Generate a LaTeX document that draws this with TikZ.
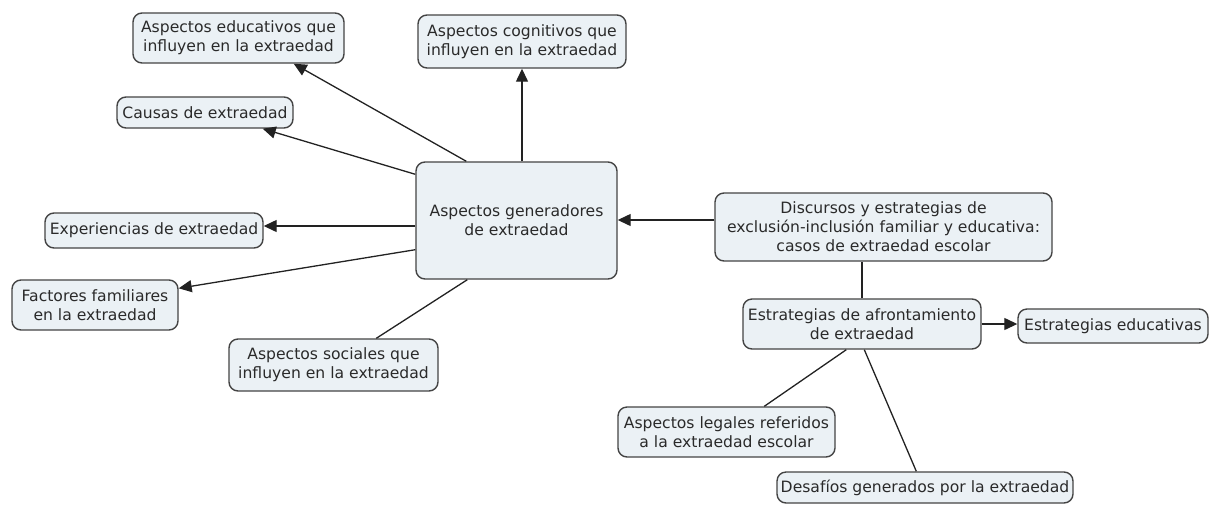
\documentclass[tikz,border=0pt]{standalone}
\usepackage{fontspec}
\setmainfont{DejaVu Sans}
\usetikzlibrary{arrows.meta,calc}
\definecolor{boxfill}{HTML}{EBF1F5}
\definecolor{boxline}{HTML}{444444}
\definecolor{linkcol}{HTML}{222222}
\definecolor{txtcol}{HTML}{2A2A2A}
\tikzset{
  concept/.style={draw=boxline, line width=1.4pt, fill=boxfill, rounded corners=9pt,
    inner sep=0pt, align=center, text=txtcol,
    font=\fontsize{15.6}{19}\selectfont},
  link/.style={draw=linkcol, line width=1.3pt},
  arrowlink/.style={link, -{Triangle[length=13pt,width=12pt]}}
}
\begin{document}
\begin{tikzpicture}[x=1pt,y=-1pt]
\useasboundingbox (0,0) rectangle (1209,504);
\node[concept, minimum width=211pt, minimum height=50pt] (edu) at (238.5,38) {Aspectos educativos que\\influyen en la extraedad};
\node[concept, minimum width=208pt, minimum height=53pt] (cog) at (522,41.5) {Aspectos cognitivos que\\influyen en la extraedad};
\node[concept, minimum width=176pt, minimum height=31pt] (cau) at (205,112.5) {Causas de extraedad};
\node[concept, minimum width=201pt, minimum height=117pt] (c) at (516.5,220.5) {Aspectos generadores\\de extraedad};
\node[concept, minimum width=218pt, minimum height=35pt] (exp) at (154,230.5) {Experiencias de extraedad};
\node[concept, minimum width=166pt, minimum height=50pt] (fam) at (95,305) {Factores familiares\\en la extraedad};
\node[concept, minimum width=209pt, minimum height=52pt] (soc) at (333.5,365) {Aspectos sociales que\\influyen en la extraedad};
\node[concept, minimum width=337pt, minimum height=68pt] (dis) at (883.5,227) {Discursos y estrategias de\\exclusión-inclusión familiar y educativa:\\casos de extraedad escolar};
\node[concept, minimum width=238pt, minimum height=50pt] (afr) at (862,324) {Estrategias de afrontamiento\\de extraedad};
\node[concept, minimum width=190pt, minimum height=34pt] (edus) at (1113,326) {Estrategias educativas};
\node[concept, minimum width=217pt, minimum height=50pt] (leg) at (726.5,432) {Aspectos legales referidos\\a la extraedad escolar};
\node[concept, minimum width=296pt, minimum height=31pt] (des) at (925,487.5) {Desafíos generados por la extraedad};

\draw[arrowlink] ([xshift=51pt]c.north west) -- ([xshift=-51pt]edu.south east);
\draw[arrowlink] (cog.south |- c.north) -- (cog.south);
\draw[arrowlink] ([yshift=-13pt]c.north west) -- ([xshift=-31pt]cau.south east);
\coordinate (cx) at ([yshift=-5.5pt]c.west);
\draw[arrowlink] (cx) -- (exp.east |- cx);
\draw[arrowlink] ([yshift=30pt]c.south west) -- ([yshift=-9pt]fam.north east);
\draw[link] ([xshift=52pt]c.south west) -- ([xshift=148pt]soc.north west);
\coordinate (dy) at ([yshift=7pt]dis.west);
\draw[arrowlink] (dy) -- (c.east |- dy);
\draw[link] (afr.north) -- (afr.north |- dis.south);
\draw[arrowlink] (afr.east) -- (edus.west |- afr.east);
\draw[link] ([xshift=104pt]afr.south west) -- ([xshift=147pt]leg.north west);
\draw[link] ([xshift=122pt]afr.south west) -- ([xshift=140pt]des.north west);
\end{tikzpicture}
\end{document}
